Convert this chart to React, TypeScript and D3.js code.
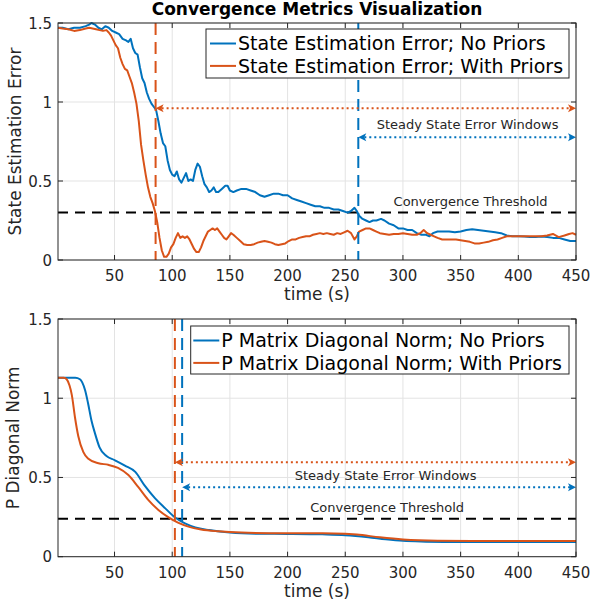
import React, { useEffect, useRef } from 'react';
import * as d3 from 'd3';

// ---- data ----
const xTicks = [50, 100, 150, 200, 250, 300, 350, 400, 450];
const yTicks = [0, 0.5, 1, 1.5];

// top panel: state estimation error
const tErrNoPriors = [1, 5, 10, 15, 20, 25, 28, 30, 33, 36, 39, 42, 45, 48, 51, 54, 57, 60, 62, 64, 66, 68, 70, 72, 74, 76, 78, 80, 82, 84, 86, 88, 90, 92, 94, 96, 98, 100, 102, 104, 106, 108, 110, 112, 114, 116, 118, 120, 122, 124, 126, 128, 130, 132, 134, 136, 138, 140, 143, 146, 148, 150, 153, 156, 160, 164, 168, 172, 176, 180, 184, 188, 192, 196, 200, 204, 208, 212, 216, 220, 224, 228, 232, 236, 240, 244, 248, 252, 255, 258, 260, 262, 265, 268, 271, 274, 277, 281, 284, 288, 292, 296, 300, 304, 308, 312, 316, 320, 323, 326, 330, 335, 340, 345, 350, 355, 360, 365, 370, 375, 380, 385, 390, 395, 400, 405, 410, 415, 420, 425, 430, 435, 440, 445, 450];
const errNoPriors = [1.47, 1.47, 1.46, 1.47, 1.47, 1.48, 1.49, 1.5, 1.49, 1.47, 1.46, 1.48, 1.47, 1.45, 1.44, 1.43, 1.4, 1.39, 1.38, 1.4, 1.34, 1.31, 1.3, 1.22, 1.15, 1.12, 1.06, 1.02, 0.99, 0.97, 0.95, 0.88, 0.8, 0.74, 0.72, 0.63, 0.57, 0.54, 0.53, 0.56, 0.51, 0.49, 0.52, 0.55, 0.5, 0.51, 0.5, 0.57, 0.61, 0.59, 0.53, 0.48, 0.46, 0.43, 0.44, 0.46, 0.43, 0.43, 0.45, 0.47, 0.47, 0.44, 0.43, 0.44, 0.45, 0.45, 0.44, 0.43, 0.41, 0.4, 0.41, 0.42, 0.42, 0.41, 0.41, 0.39, 0.38, 0.37, 0.36, 0.35, 0.34, 0.34, 0.33, 0.33, 0.32, 0.32, 0.31, 0.3, 0.31, 0.33, 0.31, 0.28, 0.26, 0.25, 0.24, 0.25, 0.25, 0.26, 0.25, 0.23, 0.22, 0.2, 0.2, 0.19, 0.19, 0.17, 0.16, 0.16, 0.15, 0.17, 0.18, 0.18, 0.18, 0.175, 0.18, 0.19, 0.195, 0.19, 0.185, 0.18, 0.175, 0.17, 0.155, 0.15, 0.15, 0.148, 0.145, 0.145, 0.148, 0.145, 0.14, 0.14, 0.13, 0.12, 0.12];

const tErrWithPriors = [1, 5, 10, 15, 20, 25, 28, 31, 34, 37, 40, 43, 45, 47, 49, 51, 53, 55, 57, 59, 61, 63, 65, 67, 69, 71, 73, 75, 77, 79, 81, 83, 85, 87, 89, 91, 93, 95, 97, 99, 101, 103, 105, 107, 109, 111, 113, 115, 117, 119, 121, 123, 125, 127, 129, 131, 133, 135, 137, 139, 141, 143, 145, 147, 149, 151, 153, 156, 159, 162, 165, 168, 171, 174, 177, 180, 183, 186, 189, 192, 195, 198, 201, 204, 207, 210, 213, 216, 219, 222, 225, 228, 231, 234, 237, 240, 243, 246, 249, 252, 255, 258, 260, 262, 265, 268, 271, 274, 277, 280, 284, 288, 292, 296, 300, 304, 308, 312, 315, 318, 321, 324, 327, 330, 334, 338, 342, 346, 350, 354, 358, 362, 366, 370, 374, 378, 382, 386, 390, 395, 400, 405, 410, 415, 420, 425, 430, 435, 440, 444, 447, 450];
const errWithPriors = [1.47, 1.465, 1.46, 1.45, 1.455, 1.465, 1.47, 1.465, 1.46, 1.455, 1.45, 1.455, 1.44, 1.42, 1.39, 1.36, 1.34, 1.28, 1.24, 1.21, 1.2, 1.16, 1.12, 1.06, 0.99, 0.88, 0.73, 0.63, 0.54, 0.46, 0.4, 0.36, 0.31, 0.24, 0.14, 0.06, 0.02, 0.02, 0.04, 0.08, 0.1, 0.14, 0.17, 0.14, 0.15, 0.14, 0.15, 0.13, 0.1, 0.07, 0.05, 0.05, 0.08, 0.12, 0.15, 0.18, 0.19, 0.2, 0.19, 0.2, 0.18, 0.16, 0.14, 0.13, 0.15, 0.17, 0.16, 0.14, 0.12, 0.1, 0.095, 0.095, 0.1, 0.11, 0.115, 0.12, 0.115, 0.11, 0.1, 0.095, 0.1, 0.105, 0.12, 0.13, 0.13, 0.14, 0.145, 0.15, 0.15, 0.16, 0.165, 0.17, 0.165, 0.17, 0.165, 0.16, 0.17, 0.165, 0.175, 0.185, 0.17, 0.13, 0.15, 0.18, 0.19, 0.2, 0.2, 0.19, 0.18, 0.17, 0.165, 0.16, 0.165, 0.165, 0.17, 0.165, 0.16, 0.16, 0.17, 0.19, 0.17, 0.16, 0.15, 0.14, 0.13, 0.13, 0.13, 0.13, 0.125, 0.12, 0.115, 0.105, 0.105, 0.11, 0.115, 0.125, 0.13, 0.14, 0.15, 0.15, 0.15, 0.15, 0.15, 0.15, 0.15, 0.155, 0.165, 0.145, 0.155, 0.165, 0.17, 0.16];

// bottom panel: P matrix diagonal norm
const tNormNoPriors = [1, 10, 16, 20, 22, 24.5, 27, 30, 33, 37, 43, 50, 59, 68, 76, 85, 94, 102, 111, 120, 132, 150, 175, 200, 230, 250, 270, 285, 300, 320, 350, 400, 450];
const normNoPriors = [1.13, 1.13, 1.13, 1.12, 1.1, 1.05, 0.97, 0.86, 0.78, 0.69, 0.635, 0.61, 0.575, 0.535, 0.45, 0.37, 0.305, 0.25, 0.21, 0.185, 0.168, 0.152, 0.145, 0.144, 0.141, 0.136, 0.123, 0.11, 0.1, 0.095, 0.092, 0.092, 0.092];
const tNormWithPriors = [1, 6, 8.5, 11, 13, 15.7, 18.6, 23, 27, 36, 44.5, 53, 62, 70.5, 79, 88, 96.5, 105, 114, 125, 140, 160, 200, 240, 260, 280, 300, 330, 360, 450];
const normWithPriors = [1.13, 1.13, 1.12, 1.08, 1.02, 0.88, 0.76, 0.66, 0.62, 0.59, 0.58, 0.56, 0.515, 0.44, 0.36, 0.295, 0.25, 0.215, 0.19, 0.172, 0.16, 0.152, 0.148, 0.147, 0.14, 0.122, 0.108, 0.1, 0.099, 0.099];

// convergence / steady-state markers
const errThreshold = 0.3;
const errConvTimes = [261.3, 85.6]; // no priors, with priors
const errArrowLevels = [0.777, 0.96];
const normThreshold = 0.24;
const normConvTimes = [108.6, 102.3];
const normArrowLevels = [0.438, 0.596];

const BLUE = '#0072BD';
const ORANGE = '#D95319';
const AXIS = '#262626';
const FONT = 'DejaVu Sans, sans-serif';

const App = () => {
  const ref = useRef<SVGSVGElement>(null);

  useEffect(() => {
    const svg = d3.select(ref.current);
    svg.selectAll('*').remove();

    svg.append('text')
      .attr('x', 317).attr('y', 15)
      .attr('text-anchor', 'middle')
      .style('font-family', FONT).style('font-size', '17px').style('font-weight', 'bold')
      .style('fill', '#000')
      .text('Convergence Metrics Visualization');

    const panels = [
      {
        top: 23, bottom: 260, ylabel: 'State Estimation Error', ylabelX: 21,
        series: [
          { t: tErrNoPriors, v: errNoPriors, color: BLUE },
          { t: tErrWithPriors, v: errWithPriors, color: ORANGE },
        ],
        curve: d3.curveLinear,
        threshold: errThreshold, conv: errConvTimes, arrows: errArrowLevels,
        legend: ['State Estimation Error; No Priors', 'State Estimation Error; With Priors'],
        legendBox: [206, 29, 569, 78], legendPad: 4,
        ssText: [356, 0.83], thText: [358.6, 0.342],
      },
      {
        top: 319, bottom: 556.7, ylabel: 'P Diagonal Norm', ylabelX: 18.5,
        series: [
          { t: tNormNoPriors, v: normNoPriors, color: BLUE },
          { t: tNormWithPriors, v: normWithPriors, color: ORANGE },
        ],
        curve: d3.curveMonotoneX,
        threshold: normThreshold, conv: normConvTimes, arrows: normArrowLevels,
        legend: ['P Matrix Diagonal Norm; No Priors', 'P Matrix Diagonal Norm; With Priors'],
        legendBox: [190.7, 326, 569, 374], legendPad: 2.6,
        ssText: [285, 0.484], thText: [286.3, 0.28],
      },
    ];

    const colors = [BLUE, ORANGE];

    panels.forEach((p) => {
      const x = d3.scaleLinear().domain([1, 450]).range([58, 576]);
      const y = d3.scaleLinear().domain([0, 1.5]).range([p.bottom, p.top]);
      const g = svg.append('g');

      g.append('rect')
        .attr('x', 58).attr('y', p.top)
        .attr('width', 518).attr('height', p.bottom - p.top)
        .style('fill', '#fff');

      // grid
      xTicks.forEach((t) => {
        g.append('line')
          .attr('x1', x(t)).attr('x2', x(t)).attr('y1', p.top).attr('y2', p.bottom)
          .style('stroke', '#e3e3e3').style('stroke-width', 1);
      });
      yTicks.forEach((v) => {
        g.append('line')
          .attr('x1', 58).attr('x2', 576).attr('y1', y(v)).attr('y2', y(v))
          .style('stroke', '#e3e3e3').style('stroke-width', 1);
      });

      // threshold
      g.append('line')
        .attr('x1', x(1)).attr('x2', x(450))
        .attr('y1', y(p.threshold)).attr('y2', y(p.threshold))
        .style('stroke', '#000').style('stroke-width', 2)
        .style('stroke-dasharray', '10,7');

      // data lines
      p.series.forEach((s) => {
        const line = d3.line<number>()
          .x((_, i) => x(s.t[i]))
          .y((d) => y(d))
          .curve(p.curve);
        g.append('path')
          .attr('d', line(s.v))
          .style('fill', 'none')
          .style('stroke', s.color)
          .style('stroke-width', 2)
          .style('stroke-linejoin', 'round');
      });

      // convergence verticals
      p.conv.forEach((t, i) => {
        g.append('line')
          .attr('x1', x(t)).attr('x2', x(t)).attr('y1', p.top).attr('y2', p.bottom)
          .style('stroke', colors[i]).style('stroke-width', 2)
          .style('stroke-dasharray', '12,7');
      });

      // steady state windows (double arrows)
      p.arrows.forEach((lv, i) => {
        const x1 = x(p.conv[i]);
        const x2 = x(450);
        const yy = y(lv);
        g.append('line')
          .attr('x1', x1 + 6).attr('x2', x2 - 6).attr('y1', yy).attr('y2', yy)
          .style('stroke', colors[i]).style('stroke-width', 2)
          .style('stroke-dasharray', '2,3');
        g.append('path')
          .attr('d', `M${x1},${yy} L${x1 + 8},${yy - 4} L${x1 + 6},${yy} L${x1 + 8},${yy + 4} Z`)
          .style('fill', colors[i]);
        g.append('path')
          .attr('d', `M${x2},${yy} L${x2 - 8},${yy - 4} L${x2 - 6},${yy} L${x2 - 8},${yy + 4} Z`)
          .style('fill', colors[i]);
      });

      g.append('text')
        .attr('x', x(p.ssText[0])).attr('y', y(p.ssText[1]))
        .attr('text-anchor', 'middle')
        .style('font-family', FONT).style('font-size', '13px').style('fill', AXIS)
        .text('Steady State Error Windows');
      g.append('text')
        .attr('x', x(p.thText[0])).attr('y', y(p.thText[1]))
        .attr('text-anchor', 'middle')
        .style('font-family', FONT).style('font-size', '13px').style('fill', AXIS)
        .text('Convergence Threshold');

      // box + ticks
      g.append('rect')
        .attr('x', 58).attr('y', p.top)
        .attr('width', 518).attr('height', p.bottom - p.top)
        .style('fill', 'none').style('stroke', AXIS).style('stroke-width', 1);
      xTicks.forEach((t) => {
        g.append('line').attr('x1', x(t)).attr('x2', x(t))
          .attr('y1', p.bottom).attr('y2', p.bottom - 5).style('stroke', AXIS);
        g.append('line').attr('x1', x(t)).attr('x2', x(t))
          .attr('y1', p.top).attr('y2', p.top + 5).style('stroke', AXIS);
        g.append('text')
          .attr('x', x(t)).attr('y', p.bottom + 21)
          .attr('text-anchor', 'middle')
          .style('font-family', FONT).style('font-size', '15px').style('fill', AXIS)
          .text(t);
      });
      yTicks.forEach((v) => {
        g.append('line').attr('x1', 58).attr('x2', 63)
          .attr('y1', y(v)).attr('y2', y(v)).style('stroke', AXIS);
        g.append('line').attr('x1', 576).attr('x2', 571)
          .attr('y1', y(v)).attr('y2', y(v)).style('stroke', AXIS);
        g.append('text')
          .attr('x', 52).attr('y', y(v) + 5.5)
          .attr('text-anchor', 'end')
          .style('font-family', FONT).style('font-size', '15px').style('fill', AXIS)
          .text(v);
      });

      g.append('text')
        .attr('x', 317).attr('y', p.bottom + 40)
        .attr('text-anchor', 'middle')
        .style('font-family', FONT).style('font-size', '17px').style('fill', AXIS)
        .text('time (s)');
      g.append('text')
        .attr('transform', `translate(${p.ylabelX},${(p.top + p.bottom) / 2}) rotate(-90)`)
        .attr('text-anchor', 'middle')
        .style('font-family', FONT).style('font-size', '17px').style('fill', AXIS)
        .text(p.ylabel);

      // legend
      const [lx1, ly1, lx2, ly2] = p.legendBox;
      g.append('rect')
        .attr('x', lx1).attr('y', ly1).attr('width', lx2 - lx1).attr('height', ly2 - ly1)
        .style('fill', '#fff').style('stroke', AXIS).style('stroke-width', 1);
      p.legend.forEach((label, i) => {
        const cy = ly1 + 14.5 + i * 22.4;
        g.append('line')
          .attr('x1', lx1 + p.legendPad).attr('x2', lx1 + p.legendPad + 26).attr('y1', cy).attr('y2', cy)
          .style('stroke', colors[i]).style('stroke-width', 2);
        g.append('text')
          .attr('x', lx1 + p.legendPad + 28).attr('y', cy + 6.8)
          .style('font-family', FONT).style('font-size', '19px').style('fill', '#000')
          .text(label);
      });
    });
  }, []);

  return (
    <svg ref={ref} width={591} height={608}
      style={{ position: 'absolute', left: 0, top: 0, background: '#fff' }} />
  );
};

export default App;
